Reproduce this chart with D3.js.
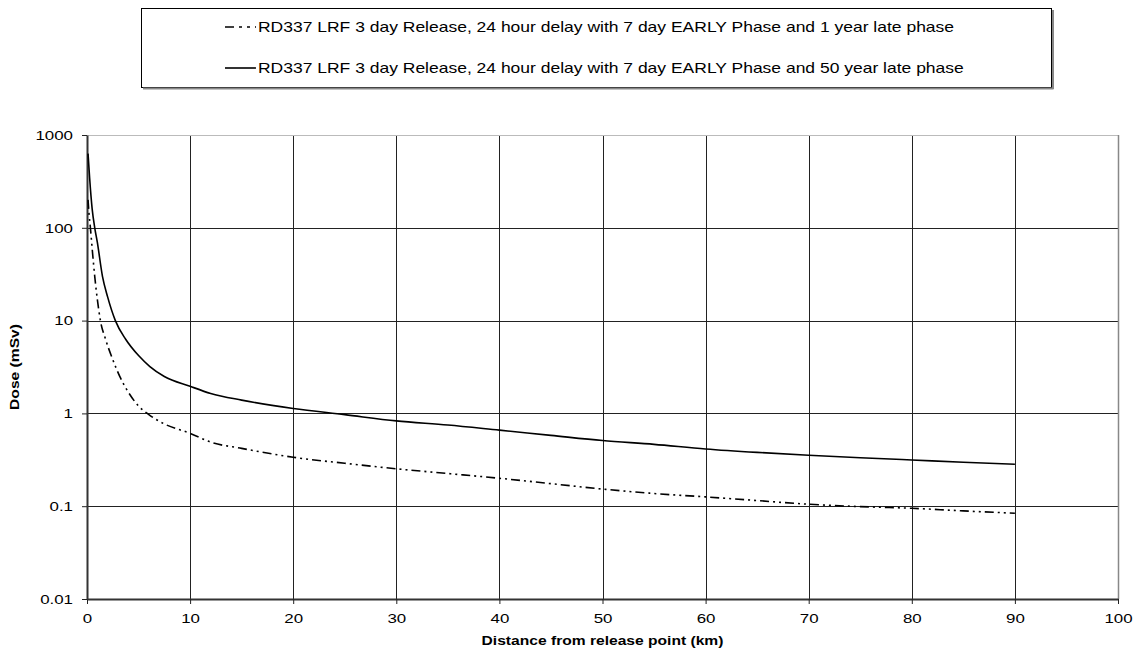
<!DOCTYPE html>
<html>
<head>
<meta charset="utf-8">
<script src="https://cdn.jsdelivr.net/npm/d3@7"></script>
<style>
  body { margin: 0; background: #fff; }
  svg { font-family: "Liberation Sans", Arial, sans-serif; }
</style>
</head>
<body>
<svg id="chart"></svg>
<script>
const width = 1140, height = 655;

// distance (km) / dose (mSv)
const oneYearDist = [0.1, 0.2, 0.33, 0.5, 0.75, 1, 1.3, 1.8, 2.5, 3.2, 4, 5, 6, 7.5, 10, 12, 15, 20, 25, 30, 35, 40, 45, 50, 55, 60, 65, 70, 75, 80, 85, 90];
const oneYearDose = [200, 140, 100, 60, 30, 17, 10, 6.3, 3.8, 2.47, 1.7, 1.2, 0.97, 0.77, 0.61, 0.49, 0.42, 0.337, 0.29, 0.253, 0.225, 0.2, 0.175, 0.153, 0.137, 0.126, 0.115, 0.105, 0.099, 0.095, 0.089, 0.084];

const fiftyYearDist = [0.1, 0.25, 0.5, 0.75, 1, 1.5, 2, 2.75, 3.75, 5, 6.1, 7.5, 10, 12, 15, 20, 25, 30, 35, 40, 45, 50, 55, 60, 65, 70, 75, 80, 85, 90];
const fiftyYearDose = [630, 350, 160, 100, 70, 30, 18, 10, 6.3, 4.2, 3.2, 2.5, 1.96, 1.64, 1.39, 1.13, 0.97, 0.83, 0.75, 0.66, 0.58, 0.51, 0.464, 0.414, 0.38, 0.354, 0.333, 0.315, 0.298, 0.283];

const seriesNames = [
  "RD337 LRF 3 day Release, 24 hour delay with 7 day EARLY Phase and 1 year late phase",
  "RD337 LRF 3 day Release, 24 hour delay with 7 day EARLY Phase and 50 year late phase"
];
const xTicks = [0, 10, 20, 30, 40, 50, 60, 70, 80, 90, 100];
const yTicks = [0.01, 0.1, 1, 10, 100, 1000];

const margin = { left: 87, right: 22, top: 135, bottom: 56 };
const stretch = 1.25; // the original text is drawn wide

const svg = d3.select('#chart')
  .attr('width', width)
  .attr('height', height);

const xScale = d3.scaleLinear()
  .domain([0, 100])
  .range([margin.left, width - margin.right]);
const yScale = d3.scaleLog()
  .domain([0.01, 1000])
  .range([height - margin.bottom, margin.top]);

// grid
svg.append('g')
  .selectAll('line')
  .data(yTicks.slice(1, -1))
  .join('line')
    .attr('x1', margin.left).attr('x2', width - margin.right)
    .attr('y1', d => Math.round(yScale(d)) + 0.5).attr('y2', d => Math.round(yScale(d)) + 0.5)
    .attr('stroke', '#222');
svg.append('g')
  .selectAll('line')
  .data(xTicks.slice(1, -1))
  .join('line')
    .attr('y1', margin.top).attr('y2', height - margin.bottom)
    .attr('x1', d => Math.round(xScale(d)) + 0.5).attr('x2', d => Math.round(xScale(d)) + 0.5)
    .attr('stroke', '#222');

// plot frame (top / right in grey)
svg.append('line')
  .attr('x1', margin.left).attr('x2', width - margin.right)
  .attr('y1', margin.top + 0.5).attr('y2', margin.top + 0.5)
  .attr('stroke', '#bbb');
svg.append('line')
  .attr('x1', width - margin.right + 0.5).attr('x2', width - margin.right + 0.5)
  .attr('y1', margin.top).attr('y2', height - margin.bottom)
  .attr('stroke', '#888').attr('stroke-width', 1.5);

// axes
const xAxis = d3.axisBottom(xScale)
  .tickValues(xTicks)
  .tickSize(5)
  .tickSizeOuter(0)
  .tickPadding(9)
  .tickFormat(d3.format('d'));
const yAxis = d3.axisLeft(yScale)
  .tickValues(yTicks)
  .tickSize(5)
  .tickSizeOuter(0)
  .tickPadding(9)
  .tickFormat(d => String(d));

const gx = svg.append('g')
  .attr('transform', `translate(0, ${height - margin.bottom})`)
  .call(xAxis);
const gy = svg.append('g')
  .attr('transform', `translate(${margin.left}, 0)`)
  .call(yAxis);
[gx, gy].forEach(g => {
  g.select('.domain').attr('stroke', '#333').attr('stroke-width', 2);
  g.selectAll('.tick line').attr('stroke', '#222');
  g.selectAll('.tick text')
    .attr('font-size', 13.5)
    .attr('fill', '#000')
    .attr('font-family', '"Liberation Sans", Arial, sans-serif')
    .attr('x', function() { return (+d3.select(this).attr('x') || 0) / stretch; })
    .attr('transform', `scale(${stretch},1)`);
});

// lines
const line = d3.line()
  .x(d => xScale(d[0]))
  .y(d => yScale(d[1]))
  .curve(d3.curveMonotoneX);

const oneYear = oneYearDist.map((d, i) => [d, oneYearDose[i]]);
const fiftyYear = fiftyYearDist.map((d, i) => [d, fiftyYearDose[i]]);

svg.append('path')
  .datum(oneYear)
  .attr('d', line)
  .attr('fill', 'none')
  .attr('stroke', '#000')
  .attr('stroke-width', 1.6)
  .attr('stroke-dasharray', '9,4,2,4,2,4');
svg.append('path')
  .datum(fiftyYear)
  .attr('d', line)
  .attr('fill', 'none')
  .attr('stroke', '#000')
  .attr('stroke-width', 1.6);

// axis titles
svg.append('text')
  .attr('transform', `translate(${(margin.left + width - margin.right) / 2}, 645) scale(${stretch},1)`)
  .attr('text-anchor', 'middle')
  .attr('font-size', 12.5)
  .attr('font-weight', 'bold')
  .text('Distance from release point (km)');
svg.append('text')
  .attr('transform', `translate(19, ${(margin.top + height - margin.bottom) / 2}) rotate(-90) scale(${stretch},1)`)
  .attr('text-anchor', 'middle')
  .attr('font-size', 12.5)
  .attr('font-weight', 'bold')
  .text('Dose (mSv)');

// legend
const legend = svg.append('g');
legend.append('rect')
  .attr('x', 141.5).attr('y', 8.5)
  .attr('width', 910).attr('height', 79)
  .attr('fill', '#fff')
  .attr('stroke', '#000');
legend.append('line')
  .attr('x1', 143).attr('x2', 1053.5).attr('y1', 88.5).attr('y2', 88.5)
  .attr('stroke', '#888').attr('stroke-width', 2);
legend.append('line')
  .attr('x1', 1053).attr('x2', 1053).attr('y1', 10).attr('y2', 89)
  .attr('stroke', '#888').attr('stroke-width', 2);

const legendY = [27, 68];
seriesNames.forEach((name, i) => {
  legend.append('line')
    .attr('x1', 225).attr('x2', 256)
    .attr('y1', legendY[i]).attr('y2', legendY[i])
    .attr('stroke', '#000')
    .attr('stroke-width', 1.6)
    .attr('stroke-dasharray', i === 0 ? '9,5,3,5,3,5' : null);
  legend.append('text')
    .attr('transform', `translate(258, ${legendY[i]}) scale(${stretch},1)`)
    .attr('dy', '0.35em')
    .attr('font-size', 14)
    .text(name);
});
</script>
</body>
</html>
